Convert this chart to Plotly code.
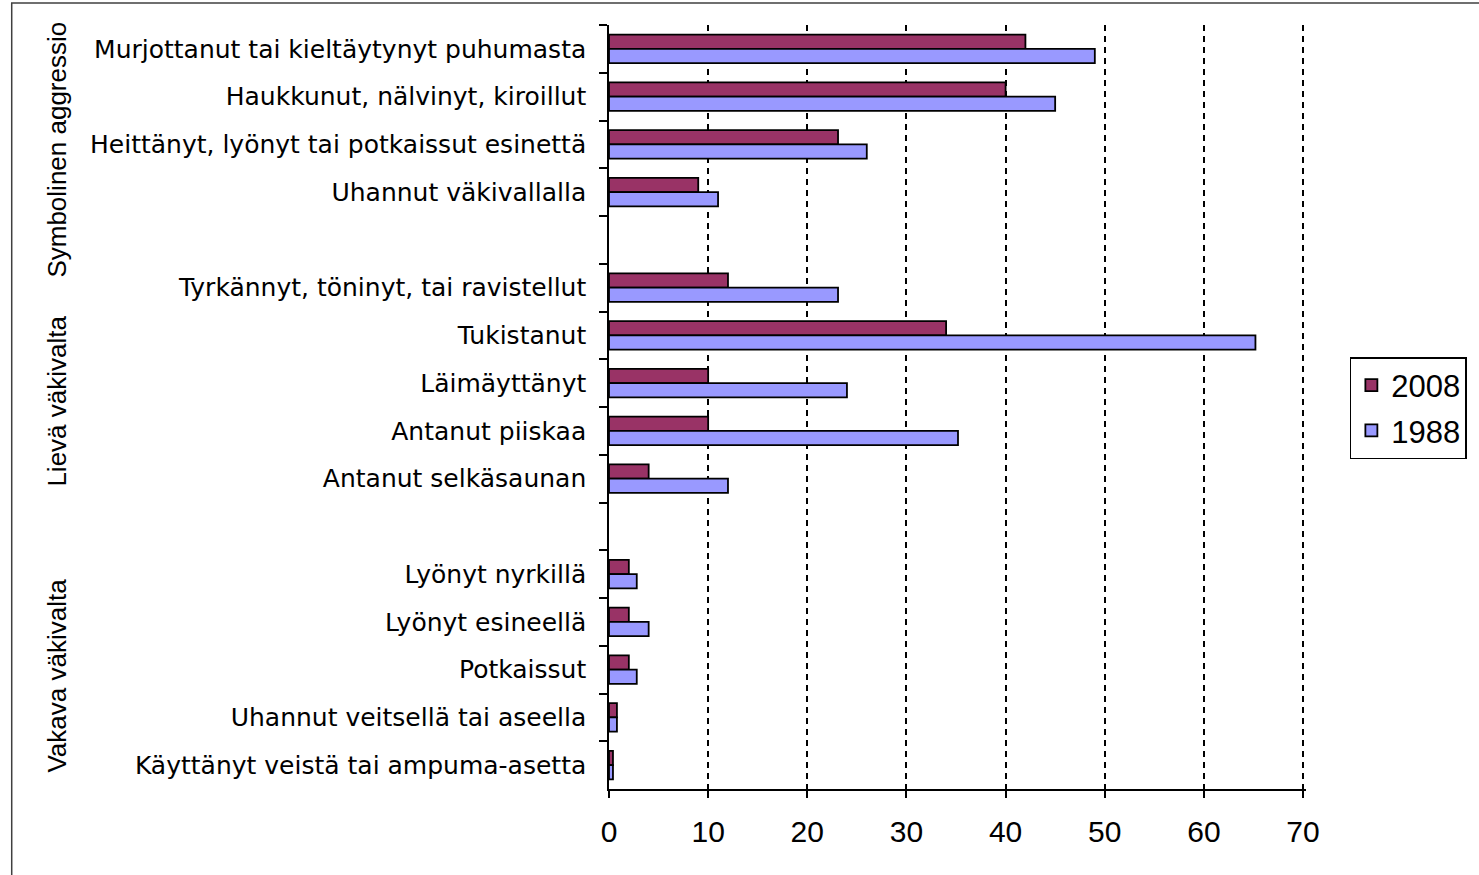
import plotly.graph_objects as go

categories = [
    "Murjottanut tai kieltäytynyt puhumasta",
    "Haukkunut, nälvinyt, kiroillut",
    "Heittänyt, lyönyt tai potkaissut esinettä",
    "Uhannut väkivallalla",
    " ",
    "Tyrkännyt, töninyt, tai ravistellut",
    "Tukistanut",
    "Läimäyttänyt",
    "Antanut piiskaa",
    "Antanut selkäsaunan",
    "  ",
    "Lyönyt nyrkillä",
    "Lyönyt esineellä",
    "Potkaissut",
    "Uhannut veitsellä tai aseella",
    "Käyttänyt veistä tai ampuma-asetta",
]
values_2008 = [42, 40, 23.1, 9, None, 12, 34, 10, 10, 4, None, 2, 2, 2, 0.8, 0.4]
values_1988 = [49, 45, 26, 11, None, 23.1, 65.2, 24, 35.2, 12, None, 2.8, 4, 2.8, 0.8, 0.4]
groups = ["Symbolinen aggressio", "Lievä väkivalta", "Vakava väkivalta"]
x_ticks = [0, 10, 20, 30, 40, 50, 60, 70]

W, H = 1479, 875
XMAX = 70.3
L, T, B = 609, 25, 789
R = L + round(XMAX * 9.943)

fig = go.Figure()
fig.add_trace(go.Bar(
    y=categories, x=values_2008, orientation="h", name="2008", legendgroup="a",
    marker=dict(color="#993366", line=dict(color="black", width=1.8)),
))
fig.add_trace(go.Bar(
    y=categories, x=values_1988, orientation="h", name="1988", legendgroup="b",
    marker=dict(color="#9999FF", line=dict(color="black", width=1.8)),
))

font_main = "Liberation Sans, Arial, sans-serif"
font_cat = "DejaVu Sans, Verdana, sans-serif"

fig.update_layout(
    width=W, height=H,
    margin=dict(l=L, r=W - R, t=T, b=H - B, pad=0),
    paper_bgcolor="white", plot_bgcolor="white",
    barmode="group", bargap=0.4, bargroupgap=0,
    font=dict(family=font_main, size=24, color="black"),
    legend=dict(
        x=(1352 - L) / (R - L), y=1 - (357 - T) / (B - T),
        xanchor="left", yanchor="top",
        bordercolor="black", borderwidth=1.5,
        font=dict(size=31, family=font_main),
        traceorder="grouped", tracegroupgap=2,
        itemwidth=30,
    ),
    showlegend=True,
)

fig.update_xaxes(
    range=[0, XMAX], tickvals=x_ticks, ticktext=[str(v) for v in x_ticks],
    showline=True, linecolor="black", linewidth=1.5,
    ticks="outside", ticklen=7, tickcolor="black", tickwidth=1.5,
    showgrid=True, gridcolor="black", gridwidth=2, griddash="6px,5px",
    zeroline=False, tickfont=dict(size=30, family=font_main), ticklabelstandoff=8,
)
fig.update_yaxes(
    categoryorder="array", categoryarray=categories,
    autorange="reversed", type="category",
    showline=True, linecolor="black", linewidth=1.5,
    ticks="outside", ticklen=8, tickcolor="black", tickwidth=1.5,
    tickson="boundaries", showgrid=False, zeroline=False,
    tickfont=dict(size=25, family=font_cat), ticklabelstandoff=16,
)

def px_to_paper_x(px):
    return (px - L) / (R - L)

def px_to_paper_y(py):
    return 1 - (py - T) / (B - T)

group_centers = [150, 401, 676]
for g, cy in zip(groups, group_centers):
    fig.add_annotation(
        text=g, xref="paper", yref="paper",
        x=px_to_paper_x(55), y=px_to_paper_y(cy),
        textangle=-90, showarrow=False,
        font=dict(size=26, family="Liberation Sans Narrow, Arial Narrow, Liberation Sans, sans-serif"),
        xanchor="center", yanchor="middle",
    )

fig.add_shape(
    type="rect", xref="paper", yref="paper",
    x0=px_to_paper_x(10), x1=px_to_paper_x(1490),
    y0=px_to_paper_y(890), y1=px_to_paper_y(3),
    line=dict(color="#404040", width=1.5), fillcolor="rgba(0,0,0,0)", layer="below",
)

fig.write_html("out.html", config={"displayModeBar": False},
               post_script="document.body.style.margin='0px';")
